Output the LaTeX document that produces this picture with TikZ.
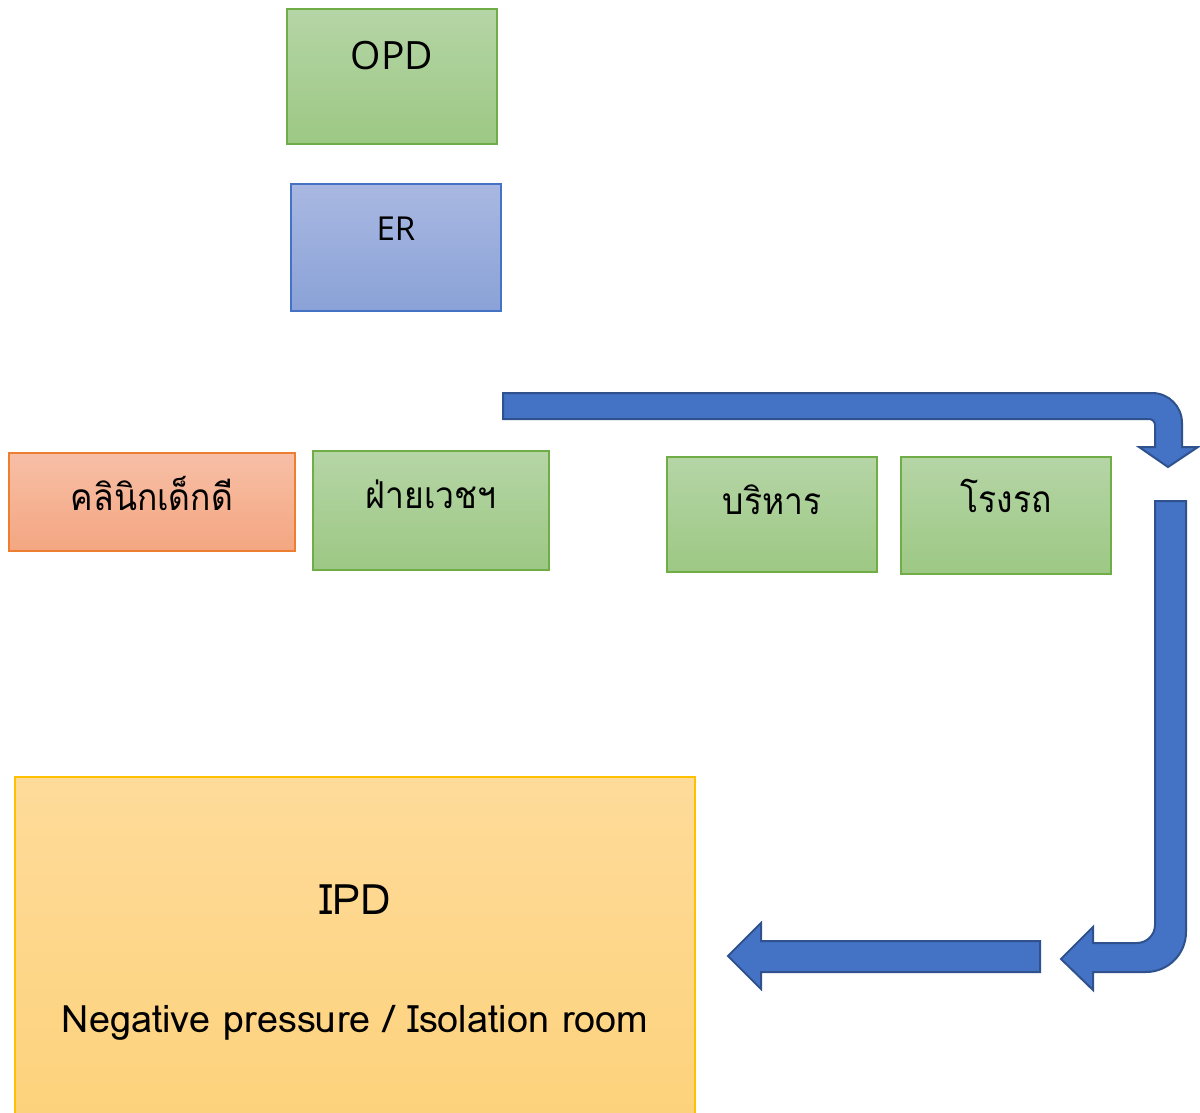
\documentclass[tikz,border=0pt]{standalone}
\usepackage{fontspec}
\newfontfamily\thaifont[Script=Thai]{Loma}
\newfontfamily\latinfont{Open Sans}
\usetikzlibrary{positioning}

\definecolor{grTop}{HTML}{B5D5A6}
\definecolor{grBot}{HTML}{9DC884}
\definecolor{grLine}{HTML}{70AD47}
\definecolor{blTop}{HTML}{A9B8E2}
\definecolor{blBot}{HTML}{8AA2D7}
\definecolor{blLine}{HTML}{4472C4}
\definecolor{orTop}{HTML}{F7BFA6}
\definecolor{orBot}{HTML}{F4A681}
\definecolor{orLine}{HTML}{ED7D31}
\definecolor{yeTop}{HTML}{FEDB9A}
\definecolor{yeBot}{HTML}{FDD27B}
\definecolor{yeLine}{HTML}{FFC000}
\definecolor{arFill}{HTML}{4472C4}
\definecolor{arLine}{HTML}{2F528F}

% narrowed Thai room name
\newcommand{\roomname}[1]{\scalebox{0.91}[1]{#1}}

\tikzset{
  room/.style={rectangle, inner sep=0pt, line width=1.2pt},
  greenroom/.style={room, draw=grLine, top color=grTop, bottom color=grBot},
  blueroom/.style={room, draw=blLine, top color=blTop, bottom color=blBot},
  orangeroom/.style={room, draw=orLine, top color=orTop, bottom color=orBot},
  yellowroom/.style={room, draw=yeLine, top color=yeTop, bottom color=yeBot},
  thailabel/.style={anchor=base, inner sep=0pt, font=\thaifont\fontsize{37}{40}\selectfont},
  latinlabel/.style={anchor=base, inner sep=0pt},
  blockarrow/.style={fill=arFill, draw=arLine, line width=2pt, line join=miter}
}

\begin{document}
\begin{tikzpicture}[x=1pt, y=-1pt]
  \useasboundingbox (0,0) rectangle (1200,1113);
  \clip (0,0) rectangle (1200,1113);
  \fill[white] (0,0) rectangle (1200,1113);

  % rooms
  \node (opd) [greenroom, minimum width=210, minimum height=135] at (392,76.5) {};
  \node (er) [blueroom, minimum width=210, minimum height=127] at (396,247.5) {};
  \node (clinic) [orangeroom, minimum width=286, minimum height=98] at (152,502) {};
  \node (rehab) [greenroom, minimum width=236, minimum height=119] at (431,510.5) {};
  \node (admin) [greenroom, minimum width=210, minimum height=115] at (772,514.5) {};
  \node (garage) [greenroom, minimum width=210, minimum height=117] at (1006,515.5) {};
  \node (ipd) [yellowroom, minimum width=680, minimum height=346] at (355,950) {};

  % room names
  \node (opdtext) [latinlabel, font=\latinfont\fontsize{39}{44}\selectfont] at (392,70) {OPD};
  \node (ertext) [latinlabel, font=\latinfont\fontsize{33}{36}\selectfont] at (396,240) {ER};
  \node (clinictext) [thailabel] at (152,510) {\roomname{คลินิกเด็กดี}};
  \node (rehabtext) [thailabel] at (431,508) {\roomname{ฝ่ายเวชฯ}};
  \node (admintext) [thailabel] at (772,514) {\roomname{บริหาร}};
  \node (garagetext) [thailabel] at (1006,512) {\roomname{โรงรถ}};
  \node (ipdtext) [latinlabel, font=\thaifont\fontsize{42}{46}\selectfont] at (355,914) {IPD};
  \node (isotext) [latinlabel, font=\thaifont\fontsize{37.8}{40}\selectfont] at (355,1032) {Negative pressure / Isolation room};

  % bent arrow along the top, turning down
  \draw[blockarrow]
    (503,393) -- (1152,393)
    .. controls (1168.6,393) and (1182,406.4) .. (1182,423)
    -- (1182,447) -- (1198,447) -- (1168,467) -- (1139,447) -- (1155,447)
    -- (1155,425)
    .. controls (1155,421.7) and (1152.3,419) .. (1149,419)
    -- (503,419) -- cycle;

  % J-shaped arrow down the right side, turning left
  \draw[blockarrow]
    (1155,501) -- (1186,501) -- (1186,932)
    .. controls (1186,954.1) and (1168.1,972) .. (1146,972)
    -- (1093,972) -- (1093,990) -- (1061,959) -- (1093,927) -- (1093,943)
    -- (1137,943)
    .. controls (1146.9,943) and (1155,934.9) .. (1155,925)
    -- cycle;

  % straight arrow pointing left towards IPD
  \draw[blockarrow]
    (1040,941) -- (761,941) -- (761,923) -- (728,956) -- (761,989)
    -- (761,972) -- (1040,972) -- cycle;
\end{tikzpicture}
\end{document}
